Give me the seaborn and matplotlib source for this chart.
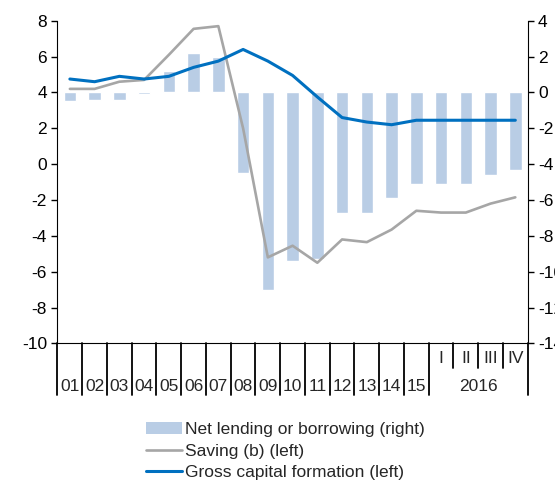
import numpy as np
import pandas as pd
import matplotlib
matplotlib.use("Agg")
import matplotlib.pyplot as plt
from matplotlib.patches import Patch
from matplotlib.lines import Line2D
import seaborn as sns

# Données
periods = ["01", "02", "03", "04", "05", "06", "07", "08", "09", "10",
           "11", "12", "13", "14", "15", "I", "II", "III", "IV"]
n_years = 15
year_label = "2016"
net_lending = [-0.5, -0.4, -0.4, -0.1, 1.2, 2.2, 2.0, -4.5, -11.0, -9.4,
               -9.3, -6.75, -6.7, -5.9, -5.1, -5.1, -5.1, -4.6, -4.3]
saving = [4.2, 4.2, 4.6, 4.7, 6.1, 7.55, 7.7, 2.0, -5.2, -4.55,
          -5.5, -4.2, -4.35, -3.65, -2.6, -2.7, -2.7, -2.2, -1.85]
gcf = [4.75, 4.6, 4.9, 4.75, 4.9, 5.4, 5.75, 6.4, 5.75, 4.95,
       3.75, 2.6, 2.35, 2.2, 2.45, 2.45, 2.45, 2.45, 2.45]

labels = ["Net lending or borrowing (right)", "Saving (b) (left)",
          "Gross capital formation (left)"]
bar_color = "#b9cde5"
saving_color = "#a6a6a6"
gcf_color = "#0070c0"

sns.set_style("ticks")
plt.rcParams['font.family'] = ['Liberation Sans', 'DejaVu Sans']
plt.rcParams['font.size'] = 12.5
plt.rcParams['axes.unicode_minus'] = False

df = pd.DataFrame({"pos": np.arange(len(periods)), "net": net_lending,
                   "saving": saving, "gcf": gcf})

fig = plt.figure(figsize=(5.55, 4.83), dpi=100)
ax = fig.add_axes([0.1036, 0.289, 0.8472, 0.668])
ax2 = ax.twinx()

# barres sur l'axe de droite
sns.barplot(data=df, x="pos", y="net", ax=ax2, color=bar_color,
            saturation=1, width=0.5, errorbar=None)
# courbes sur l'axe de gauche
sns.lineplot(data=df, x="pos", y="saving", ax=ax, color=saving_color,
             linewidth=1.9)
sns.lineplot(data=df, x="pos", y="gcf", ax=ax, color=gcf_color,
             linewidth=2.2)

ax.set_zorder(ax2.get_zorder() + 1)
ax.patch.set_visible(False)

ax.set_ylim(-10, 8)
ax.set_yticks(np.arange(-10, 9, 2))
ax2.set_ylim(-14, 4)
ax2.set_yticks(np.arange(-14, 5, 2))
ax.set_xlim(-0.5, len(periods) - 0.5)
ax.set_xticks([])
for a in (ax, ax2):
    a.set_xlabel("")
    a.set_ylabel("")
    a.tick_params(axis="y", length=4, width=1, colors="black", labelsize=12.5)

ax.spines["top"].set_visible(False)
ax.spines["right"].set_visible(False)
for s in ["top", "left", "bottom"]:
    ax2.spines[s].set_visible(False)
for s in ["left", "bottom"]:
    ax.spines[s].set_color("black")
ax2.spines["right"].set_color("black")

# axe des x : séparateurs et libellés
trans = ax.get_xaxis_transform()
for i in range(len(periods) + 1):
    x = i - 0.5
    short = n_years < i < len(periods)
    ax.plot([x, x], [0, -0.077 if short else -0.161], transform=trans,
            color="black", lw=1.3, clip_on=False)
for i, p in enumerate(periods):
    if i < n_years:
        ax.text(i, -0.132, p, transform=trans, ha="center", va="center",
                fontsize=12.5)
    else:
        ax.text(i, -0.048, p, transform=trans, ha="center", va="center",
                fontsize=12.5)
ax.text((n_years + len(periods) - 1) / 2, -0.132, year_label, transform=trans,
        ha="center", va="center", fontsize=12.5)

handles = [Patch(facecolor=bar_color, edgecolor="none"),
           Line2D([], [], color=saving_color, lw=1.9),
           Line2D([], [], color=gcf_color, lw=2.2)]
fig.legend(handles, labels, loc="center", bbox_to_anchor=(0.514, 0.066),
           frameon=False, fontsize=12.5, handlelength=2.1, handletextpad=0.15,
           labelspacing=0.35, borderpad=0)

fig.savefig("out.png", dpi=100)
